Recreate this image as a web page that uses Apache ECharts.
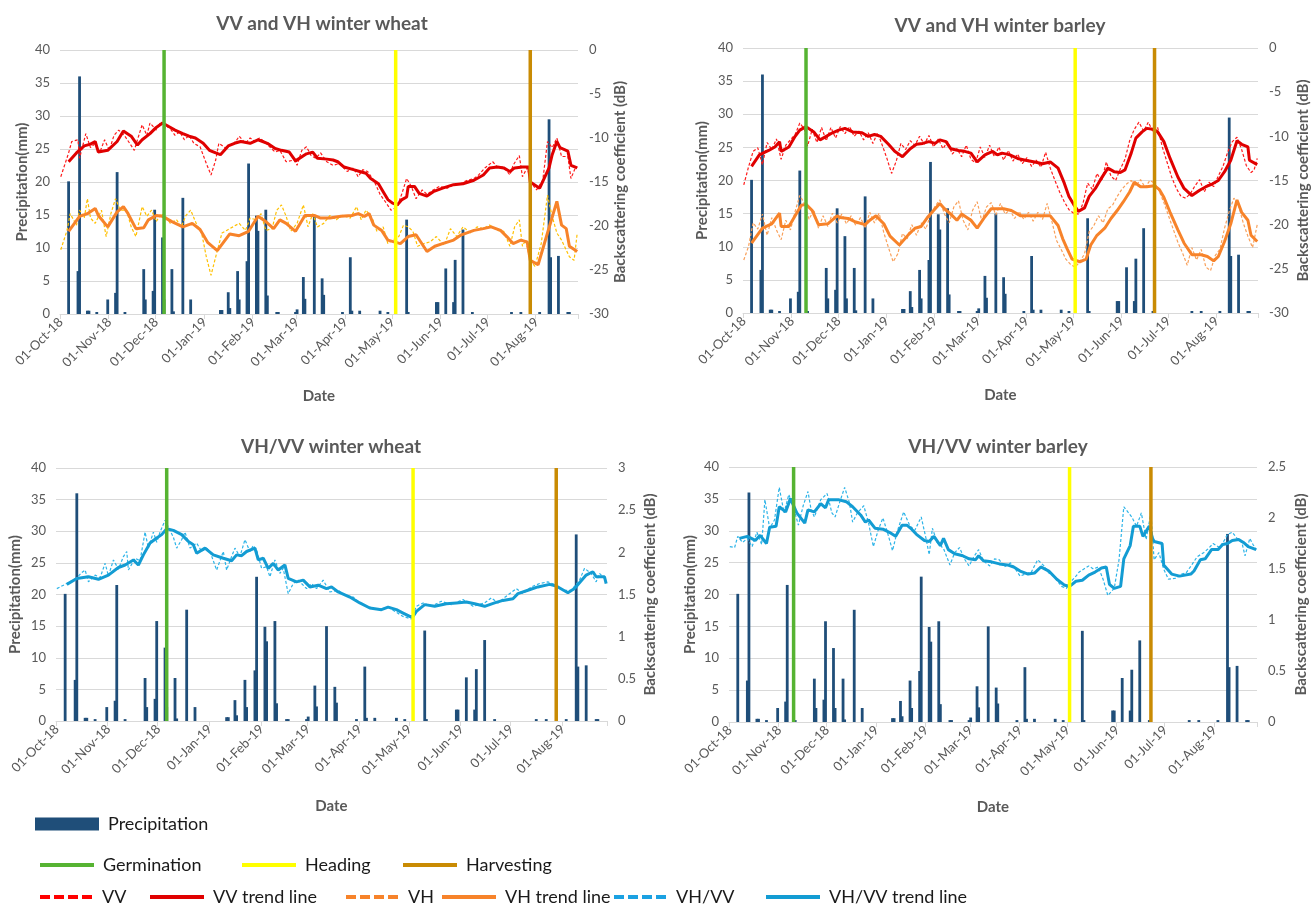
<!DOCTYPE html>
<html><head><meta charset="utf-8">
<script src="https://cdn.jsdelivr.net/npm/echarts@6/dist/echarts.min.js"></script>
<style>html,body{margin:0;padding:0;background:#fff}#c{width:1312px;height:911px}</style>
</head><body><div id="c"></div>
<script>
// ---------- categories: daily dates from 01-Oct-18 ----------
const MONTHS = ['Jan','Feb','Mar','Apr','May','Jun','Jul','Aug','Sep','Oct','Nov','Dec'];
const NUM_DAYS = 331;
const dateCategories = [];
for (let i = 0; i < NUM_DAYS; i++) {
  const d = new Date(Date.UTC(2018, 9, 1 + i));
  dateCategories.push(String(d.getUTCDate()).padStart(2,'0') + '-' + MONTHS[d.getUTCMonth()] + '-' + String(d.getUTCFullYear()).slice(2));
}
// all series: [day index since 01-Oct-18, value]
const precipitation = [[5,20.1],[11,6.5],[12,36],[17,0.5],[18,0.5],[23,0.3],[30,2.2],[35,3.2],[36,21.5],[41,0.3],[53,6.8],[54,2.2],[59,3.5],[60,15.8],[65,11.6],[66,2.2],[71,6.8],[72,0.4],[78,17.6],[83,2.2],[102,0.6],[103,0.6],[107,3.3],[108,0.9],[113,6.5],[114,2.2],[119,8.0],[120,22.8],[125,14.9],[126,12.6],[131,15.8],[132,2.8],[138,0.3],[139,0.3],[150,0.3],[151,0.7],[155,5.6],[156,2.3],[162,15.0],[167,5.4],[168,2.9],[180,0.3],[185,8.6],[186,0.5],[191,0.5],[204,0.5],[209,0.3],[221,14.3],[222,0.3],[240,1.8],[241,1.8],[246,6.9],[251,1.8],[252,8.2],[257,12.8],[263,0.3],[288,0.3],[294,0.3],[306,0.3],[312,29.5],[313,8.6],[318,8.8],[324,0.3],[325,0.3]];

const eventNames = ['Germination','Heading','Harvesting'];
const wheatEventDays = [66, 214, 300];
const barleyEventDays = [40, 213, 264];

const vvWheat = [[0,-14.4],[5,-11.7],[7,-10.4],[11,-10.2],[12,-12.3],[16,-9.5],[19,-11.1],[22,-10.6],[25,-11.6],[28,-10.2],[31,-11.4],[34,-9.7],[37,-9.1],[41,-9.8],[44,-10.6],[47,-11.4],[49,-10.2],[52,-8.5],[55,-9.7],[57,-8.3],[61,-9.1],[63,-8.3],[67,-8.9],[69,-8.7],[73,-9.7],[76,-9.3],[79,-10.2],[82,-9.7],[85,-10.6],[89,-11.0],[93,-12.9],[96,-14.2],[99,-12.5],[101,-10.6],[105,-11.1],[108,-10.8],[111,-10.6],[114,-9.8],[118,-10.6],[121,-10.0],[124,-10.4],[127,-10.0],[130,-10.4],[134,-11.1],[137,-11.6],[140,-11.4],[144,-12.7],[149,-12.5],[151,-13.1],[154,-11.4],[157,-11.0],[160,-12.0],[163,-12.3],[166,-11.7],[170,-12.7],[174,-13.1],[178,-12.9],[183,-13.8],[187,-13.4],[190,-14.4],[193,-13.6],[196,-13.8],[200,-14.8],[204,-16.4],[208,-17.4],[211,-18.2],[215,-17.8],[218,-16.3],[221,-14.6],[224,-15.5],[227,-16.9],[231,-15.9],[234,-16.4],[238,-15.9],[242,-15.5],[247,-15.7],[251,-15.3],[255,-15.2],[260,-14.8],[264,-14.6],[267,-14.2],[271,-13.4],[276,-12.7],[279,-13.3],[283,-13.3],[287,-14.2],[289,-13.1],[293,-12.0],[295,-14.4],[298,-13.4],[301,-15.2],[304,-15.9],[308,-14.8],[311,-10.4],[314,-11.1],[317,-10.0],[320,-12.1],[324,-12.1],[326,-14.6],[329,-13.3],[330,-13.4]];
const vvWheatTrend = [[5,-12.7],[10,-11.7],[15,-10.9],[19,-10.7],[22,-10.4],[24,-11.6],[30,-11.4],[36,-10.4],[40,-9.2],[45,-9.8],[49,-10.8],[52,-10.2],[57,-9.5],[61,-8.8],[65,-8.3],[69,-8.7],[73,-9.1],[78,-9.5],[82,-9.8],[86,-10.0],[91,-10.6],[95,-11.4],[99,-11.7],[102,-11.9],[107,-10.9],[111,-10.6],[115,-10.4],[121,-10.6],[126,-10.2],[129,-10.4],[132,-10.6],[137,-11.2],[141,-11.4],[146,-11.6],[150,-12.6],[157,-11.8],[161,-11.6],[164,-12.3],[170,-12.4],[174,-12.5],[177,-12.7],[181,-13.3],[187,-13.6],[191,-13.8],[195,-14.0],[198,-14.6],[203,-15.2],[206,-16.1],[209,-17.0],[212,-17.4],[215,-17.6],[218,-17.0],[221,-16.7],[222,-15.5],[226,-15.5],[229,-16.3],[234,-16.6],[238,-16.1],[244,-15.7],[251,-15.3],[257,-15.2],[264,-14.8],[270,-14.2],[274,-13.4],[279,-13.3],[283,-13.4],[287,-13.8],[290,-13.4],[295,-13.3],[299,-13.3],[300,-15.0],[306,-15.7],[312,-13.4],[314,-11.9],[317,-10.4],[319,-11.1],[324,-11.5],[326,-13.1],[330,-13.4]];
const vhWheat = [[0,-22.7],[4,-20.5],[6,-18.6],[10,-19.9],[12,-18.2],[15,-19.1],[17,-16.9],[19,-19.1],[22,-19.7],[26,-18.2],[29,-21.2],[32,-18.6],[35,-16.9],[38,-18.2],[42,-18.2],[45,-20.1],[48,-21.2],[52,-17.8],[55,-18.9],[58,-18.2],[61,-19.5],[64,-18.6],[67,-18.9],[70,-19.7],[74,-19.3],[77,-20.1],[80,-18.8],[83,-18.2],[87,-19.9],[90,-20.8],[93,-23.5],[96,-25.6],[99,-23.5],[103,-20.8],[106,-20.5],[110,-20.1],[114,-19.7],[118,-20.5],[121,-19.1],[125,-19.3],[128,-18.6],[131,-20.5],[135,-20.3],[138,-18.2],[141,-17.6],[144,-18.9],[147,-20.6],[151,-19.7],[155,-17.6],[158,-20.1],[161,-18.6],[164,-20.1],[168,-19.7],[172,-18.8],[176,-19.3],[180,-18.8],[185,-19.1],[189,-17.8],[192,-19.3],[195,-18.2],[199,-19.1],[202,-20.6],[206,-20.1],[209,-22.0],[212,-21.6],[216,-21.2],[219,-19.9],[222,-20.1],[225,-20.6],[228,-22.3],[232,-22.0],[236,-21.8],[240,-21.2],[245,-22.2],[249,-20.3],[253,-21.2],[257,-20.1],[262,-20.8],[266,-20.1],[270,-20.3],[274,-19.9],[279,-20.5],[283,-20.6],[287,-22.3],[290,-20.1],[293,-19.3],[295,-22.3],[297,-21.6],[300,-23.9],[303,-24.6],[307,-22.0],[311,-16.5],[314,-18.9],[317,-20.8],[320,-21.6],[325,-23.5],[328,-23.9],[330,-20.8]];
const vhWheatTrend = [[5,-20.6],[12,-18.9],[17,-18.6],[22,-18.0],[24,-18.8],[30,-20.1],[36,-18.4],[40,-17.8],[43,-18.6],[48,-20.3],[53,-20.2],[56,-19.3],[61,-18.8],[65,-18.9],[71,-19.5],[78,-20.1],[84,-19.7],[89,-20.4],[94,-21.9],[100,-22.8],[108,-20.9],[114,-21.1],[120,-20.6],[126,-18.9],[131,-19.5],[136,-20.3],[140,-19.3],[144,-19.7],[150,-20.6],[156,-18.8],[162,-18.8],[166,-19.1],[172,-19.1],[179,-18.9],[186,-18.8],[190,-18.6],[194,-18.9],[197,-18.6],[200,-19.9],[205,-20.5],[209,-21.6],[213,-21.8],[217,-22.0],[222,-21.2],[227,-21.0],[234,-22.9],[239,-22.3],[244,-22.0],[251,-21.6],[256,-21.0],[264,-20.5],[270,-20.3],[275,-20.1],[281,-20.5],[285,-21.2],[289,-22.0],[294,-21.6],[298,-21.8],[300,-23.9],[305,-24.4],[311,-20.8],[317,-17.2],[320,-19.9],[323,-20.3],[325,-22.3],[330,-22.9]];

const vvBarley = [[0,-15.5],[3,-13.5],[6,-11.7],[9,-11.3],[12,-13.2],[15,-10.7],[18,-11.5],[21,-10.3],[24,-12.6],[27,-11.0],[30,-10.4],[33,-9.8],[36,-8.5],[39,-9.2],[41,-11.1],[44,-9.2],[47,-10.7],[50,-9.0],[53,-10.5],[56,-9.0],[59,-10.2],[62,-8.9],[65,-9.7],[68,-8.9],[71,-10.0],[74,-9.4],[77,-10.4],[80,-9.6],[83,-10.8],[86,-9.6],[89,-11.0],[92,-12.5],[95,-14.2],[98,-12.8],[101,-10.8],[104,-11.5],[107,-10.5],[110,-11.0],[113,-10.0],[116,-10.9],[119,-9.9],[122,-11.2],[125,-10.3],[128,-11.4],[131,-10.6],[134,-12.0],[137,-11.4],[140,-12.3],[143,-11.0],[146,-12.6],[149,-13.0],[152,-11.2],[155,-12.4],[158,-11.0],[161,-12.3],[164,-11.2],[167,-12.7],[170,-11.6],[173,-12.8],[176,-12.0],[179,-13.1],[182,-12.4],[185,-13.4],[188,-12.7],[191,-13.5],[194,-11.8],[197,-13.6],[200,-15.0],[203,-16.3],[206,-17.4],[209,-18.3],[212,-18.7],[215,-18.8],[218,-17.6],[221,-15.3],[224,-16.0],[227,-14.2],[230,-15.1],[233,-12.9],[236,-14.5],[239,-15.0],[242,-13.7],[245,-12.6],[248,-10.5],[251,-9.2],[254,-8.4],[257,-9.4],[260,-8.4],[263,-9.5],[266,-9.0],[269,-11.2],[272,-12.9],[275,-14.6],[278,-15.9],[281,-16.8],[284,-17.0],[287,-16.5],[290,-15.6],[293,-14.9],[296,-16.3],[299,-15.2],[302,-15.7],[305,-14.5],[308,-13.4],[311,-11.8],[314,-10.6],[317,-10.1],[320,-11.5],[323,-13.3],[326,-14.1],[328,-13.8],[330,-12.5]];
const vvBarleyTrend = [[5,-13.4],[10,-12.1],[16,-11.6],[20,-11.2],[23,-10.6],[24,-11.7],[29,-11.2],[33,-10.0],[36,-9.3],[40,-8.9],[45,-9.5],[49,-10.4],[53,-10.0],[57,-9.6],[61,-9.3],[65,-9.1],[70,-9.5],[76,-9.6],[80,-10.0],[84,-9.8],[88,-10.0],[93,-10.9],[97,-11.7],[102,-12.3],[107,-11.4],[111,-10.9],[115,-10.8],[119,-10.6],[123,-10.8],[126,-10.4],[130,-10.6],[133,-11.4],[138,-11.6],[142,-11.7],[146,-11.9],[150,-12.9],[155,-12.1],[160,-11.7],[163,-12.1],[166,-11.9],[171,-12.1],[176,-12.5],[181,-12.7],[187,-12.9],[192,-13.1],[197,-12.9],[202,-13.6],[206,-15.3],[209,-16.8],[212,-17.7],[215,-18.5],[219,-18.1],[222,-16.8],[226,-15.9],[230,-14.7],[234,-13.6],[238,-14.0],[242,-14.1],[245,-13.8],[249,-11.9],[252,-10.2],[256,-9.5],[259,-9.1],[263,-9.2],[266,-9.5],[270,-10.6],[274,-12.5],[279,-14.6],[283,-15.9],[288,-16.7],[293,-16.1],[297,-15.7],[301,-15.4],[305,-15.0],[309,-14.0],[313,-12.7],[317,-10.5],[320,-10.9],[324,-11.2],[325,-12.7],[330,-13.2]];
const vhBarley = [[0,-24.0],[3,-22.5],[6,-19.8],[9,-20.5],[12,-18.8],[15,-21.2],[18,-19.2],[21,-20.6],[24,-21.7],[27,-19.5],[30,-20.6],[33,-18.5],[36,-16.7],[39,-17.6],[42,-19.4],[45,-18.3],[48,-20.4],[51,-19.0],[54,-20.2],[57,-18.7],[60,-19.8],[63,-18.8],[66,-19.9],[69,-19.0],[72,-20.1],[75,-19.2],[78,-20.4],[81,-18.6],[84,-19.8],[87,-18.7],[90,-20.9],[93,-22.6],[96,-24.2],[99,-23.3],[102,-21.0],[105,-21.6],[108,-20.0],[111,-21.2],[114,-19.8],[117,-20.5],[120,-18.9],[123,-17.9],[126,-17.2],[129,-18.8],[132,-19.8],[135,-18.0],[138,-17.3],[141,-19.5],[144,-20.6],[147,-18.4],[150,-17.4],[153,-19.6],[156,-18.0],[159,-17.5],[162,-18.9],[165,-17.6],[168,-18.8],[171,-18.3],[174,-19.3],[177,-18.5],[180,-19.4],[183,-18.6],[186,-19.6],[189,-18.6],[192,-19.4],[195,-17.6],[198,-19.6],[201,-21.8],[204,-22.8],[207,-23.9],[210,-24.5],[213,-24.8],[216,-24.2],[219,-23.3],[222,-20.8],[225,-20.1],[228,-19.0],[231,-19.8],[234,-18.2],[237,-17.8],[240,-16.8],[243,-16.0],[246,-15.4],[249,-15.0],[252,-15.6],[255,-14.9],[258,-15.8],[261,-15.0],[264,-15.3],[267,-16.2],[270,-17.5],[273,-19.0],[276,-20.5],[279,-22.0],[282,-23.2],[285,-24.6],[288,-22.6],[291,-24.0],[294,-22.8],[297,-24.8],[300,-25.2],[303,-23.5],[306,-22.8],[309,-20.4],[312,-18.5],[315,-17.0],[318,-17.8],[321,-19.8],[324,-21.3],[327,-22.6],[330,-20.0]];
const vhBarleyTrend = [[5,-22.1],[12,-20.4],[18,-19.9],[23,-18.7],[24,-20.2],[29,-20.2],[33,-19.0],[37,-17.8],[40,-17.7],[44,-18.4],[48,-20.0],[54,-19.9],[60,-19.0],[62,-19.2],[67,-19.3],[72,-19.7],[78,-20.0],[81,-19.5],[85,-19.0],[90,-19.9],[94,-21.3],[100,-22.3],[106,-21.1],[110,-20.4],[114,-20.2],[118,-19.2],[122,-18.4],[126,-17.6],[129,-18.2],[133,-18.8],[137,-19.5],[140,-18.8],[146,-19.5],[150,-20.4],[155,-19.1],[159,-18.2],[163,-18.2],[167,-18.2],[172,-18.4],[178,-19.0],[185,-19.0],[191,-19.0],[197,-19.0],[202,-20.1],[205,-21.6],[208,-22.8],[211,-23.9],[216,-24.2],[220,-23.9],[223,-22.3],[227,-21.2],[232,-20.4],[236,-19.3],[240,-18.4],[244,-17.4],[248,-16.3],[251,-15.2],[255,-15.7],[259,-15.7],[264,-15.6],[267,-16.0],[270,-16.9],[274,-18.6],[279,-20.6],[283,-22.1],[288,-23.4],[294,-23.4],[298,-23.6],[302,-24.1],[305,-23.6],[309,-21.9],[313,-19.9],[317,-17.2],[320,-18.6],[324,-19.5],[326,-21.2],[330,-21.9]];

const ratioWheat = [[0,1.57],[4,1.61],[8,1.65],[12,1.70],[15,1.76],[17,1.79],[19,1.65],[23,1.73],[26,1.70],[29,1.87],[31,1.72],[34,1.91],[37,1.80],[40,1.95],[42,2.01],[43,1.79],[47,1.93],[50,1.90],[53,2.24],[55,2.05],[58,2.24],[60,2.12],[62,2.24],[65,2.38],[68,2.26],[70,2.18],[72,2.05],[75,2.15],[77,2.24],[80,2.05],[84,2.11],[87,2.01],[90,2.05],[92,2.01],[96,1.79],[98,1.90],[100,2.01],[102,1.79],[105,1.95],[107,2.05],[110,1.95],[113,2.15],[116,2.01],[118,2.08],[120,2.03],[123,1.81],[126,1.83],[128,1.71],[131,1.91],[134,1.75],[136,1.81],[139,1.51],[142,1.63],[145,1.67],[150,1.57],[153,1.63],[156,1.57],[160,1.67],[164,1.53],[169,1.55],[173,1.49],[178,1.47],[182,1.40],[186,1.36],[193,1.32],[199,1.35],[203,1.30],[208,1.24],[213,1.21],[216,1.36],[220,1.40],[225,1.36],[231,1.42],[237,1.38],[244,1.44],[250,1.36],[257,1.40],[261,1.46],[265,1.40],[270,1.48],[276,1.57],[280,1.51],[285,1.59],[290,1.63],[295,1.65],[300,1.61],[304,1.55],[309,1.55],[314,1.67],[317,1.81],[321,1.75],[324,1.65],[326,1.75],[330,1.67]];
const ratioWheatTrend = [[6,1.62],[12,1.69],[19,1.71],[25,1.68],[31,1.73],[37,1.82],[41,1.85],[46,1.91],[49,1.85],[52,1.97],[56,2.11],[60,2.17],[63,2.21],[66,2.28],[70,2.26],[75,2.21],[79,2.13],[82,2.09],[84,1.99],[89,2.05],[94,1.97],[100,1.93],[105,1.90],[108,1.97],[111,1.96],[114,2.01],[119,2.05],[121,1.91],[124,1.93],[127,1.81],[130,1.87],[133,1.79],[137,1.85],[139,1.69],[144,1.65],[148,1.67],[152,1.59],[157,1.61],[162,1.57],[165,1.59],[169,1.53],[176,1.47],[182,1.40],[188,1.34],[195,1.32],[199,1.35],[204,1.32],[208,1.28],[212,1.24],[214,1.24],[216,1.30],[221,1.38],[227,1.36],[234,1.39],[240,1.40],[246,1.41],[251,1.39],[257,1.36],[263,1.40],[268,1.43],[274,1.45],[277,1.51],[283,1.55],[289,1.59],[296,1.62],[300,1.60],[307,1.52],[311,1.57],[318,1.73],[322,1.77],[324,1.71],[329,1.71],[330,1.63]];
const ratioBarley = [[0,1.72],[3,1.71],[5,1.82],[8,1.76],[11,1.80],[14,1.72],[17,1.86],[20,1.74],[22,2.18],[25,1.90],[28,1.98],[31,2.30],[34,2.05],[37,2.23],[40,2.10],[43,1.93],[46,2.12],[49,2.26],[51,2.08],[53,2.01],[57,2.18],[61,2.24],[64,2.05],[66,2.01],[69,2.16],[72,2.30],[75,2.15],[77,1.96],[80,2.05],[84,2.12],[87,1.95],[90,1.72],[93,1.88],[96,2.00],[99,1.85],[102,1.68],[105,1.87],[109,2.06],[113,1.92],[116,1.88],[120,2.01],[123,1.80],[125,1.64],[127,1.90],[130,1.76],[134,1.70],[138,1.54],[141,1.66],[144,1.71],[147,1.60],[150,1.53],[153,1.62],[156,1.69],[159,1.58],[163,1.53],[166,1.60],[169,1.59],[172,1.52],[176,1.56],[179,1.50],[182,1.43],[185,1.45],[189,1.47],[193,1.59],[197,1.53],[200,1.46],[203,1.43],[206,1.37],[208,1.33],[211,1.31],[214,1.38],[217,1.43],[219,1.47],[222,1.50],[225,1.53],[228,1.50],[231,1.52],[234,1.40],[237,1.24],[241,1.31],[244,1.59],[247,2.11],[250,2.05],[252,2.01],[255,1.92],[258,2.05],[261,1.79],[264,2.05],[266,1.59],[269,1.66],[272,1.50],[275,1.40],[280,1.41],[283,1.45],[286,1.46],[290,1.55],[293,1.62],[297,1.66],[300,1.70],[303,1.75],[307,1.71],[310,1.78],[312,1.84],[315,1.86],[318,1.80],[321,1.76],[323,1.63],[326,1.80],[328,1.74],[330,1.69]];
const ratioBarleyTrend = [[6,1.80],[11,1.82],[16,1.78],[19,1.83],[23,1.75],[25,1.91],[29,1.92],[31,2.11],[35,2.06],[38,2.19],[42,2.05],[47,1.95],[49,2.08],[53,2.06],[57,2.14],[60,2.10],[62,2.18],[68,2.18],[73,2.16],[77,2.11],[82,2.03],[85,1.96],[87,1.98],[91,1.90],[96,1.89],[100,1.86],[104,1.82],[108,1.93],[111,1.93],[114,1.89],[117,1.84],[122,1.78],[125,1.77],[128,1.82],[132,1.73],[134,1.80],[137,1.69],[141,1.65],[146,1.63],[150,1.60],[154,1.59],[156,1.63],[159,1.58],[164,1.57],[169,1.55],[174,1.54],[178,1.52],[182,1.48],[187,1.45],[191,1.46],[195,1.52],[200,1.48],[205,1.40],[210,1.34],[213,1.33],[217,1.38],[221,1.39],[225,1.44],[229,1.47],[233,1.51],[236,1.52],[238,1.35],[241,1.31],[245,1.33],[247,1.60],[251,1.73],[253,1.92],[257,1.92],[259,1.82],[263,1.92],[265,1.80],[266,1.77],[271,1.75],[272,1.54],[277,1.45],[282,1.43],[289,1.45],[291,1.48],[295,1.59],[298,1.60],[302,1.69],[306,1.69],[309,1.74],[312,1.75],[315,1.78],[319,1.79],[322,1.76],[325,1.72],[330,1.69]];

// ---------- styling ----------
const FONT = 'Lato, "Liberation Sans", sans-serif';
const GRAY = '#595959';
const GRID_C = '#D9D9D9';
const C = {bar:'#1F4E79', vv:'#FF1A1A', vvT:'#E00000', vhRawW:'#FFC000', vhRawB:'#F9A05A', vhT:'#F7832A', rRaw:'#2DB4E8', rT:'#139CD3',
  ev:['#56B332','#FFFF00','#C98B03']};

const panels = [
  {title:'VV and VH winter wheat', tx:322, ty:24, grid:{left:60, top:50, width:518, height:264}, rmin:-30, rmax:0, rint:5, events:wheatEventDays,
   lines:[['VV',vvWheat,C.vv,false],['VV trend line',vvWheatTrend,C.vvT,true],['VH',vhWheat,C.vhRawW,false],['VH trend line',vhWheatTrend,C.vhT,true]],
   lGap:30, rGap:27, dGap:75},
  {title:'VV and VH winter barley', tx:1000, ty:26, grid:{left:743, top:48, width:516, height:265}, rmin:-30, rmax:0, rint:5, events:barleyEventDays,
   lines:[['VV',vvBarley,C.vv,false],['VV trend line',vvBarleyTrend,C.vvT,true],['VH',vhBarley,C.vhRawB,false],['VH trend line',vhBarleyTrend,C.vhT,true]],
   lGap:33, rGap:38, dGap:75},
  {title:'VH/VV winter wheat', tx:331, ty:447, grid:{left:56, top:468, width:551, height:253}, rmin:0, rmax:3, rint:0.5, events:wheatEventDays,
   lines:[['VH/VV',ratioWheat,C.rRaw,false],['VH/VV trend line',ratioWheatTrend,C.rT,true]],
   lGap:33, rGap:36, dGap:78},
  {title:'VH/VV winter barley', tx:998, ty:447, grid:{left:729, top:467, width:528, height:255}, rmin:0, rmax:2.5, rint:0.5, events:barleyEventDays,
   lines:[['VH/VV',ratioBarley,C.rRaw,false],['VH/VV trend line',ratioBarleyTrend,C.rT,true]],
   lGap:31, rGap:37, dGap:78}
];

const isMonthStart = (idx, val) => typeof val === 'string' ? val.slice(0,3) === '01-' : dateCategories[idx].slice(0,3) === '01-';
const axisNameStyle = {color:GRAY, fontWeight:'bold', fontSize:15, fontFamily:FONT};
const tickLabel = {color:GRAY, fontSize:13, fontFamily:FONT};

const grid = [], xAxis = [], yAxis = [], series = [], graphic = [];
panels.forEach((p, i) => {
  grid.push(Object.assign({containLabel:false}, p.grid));
  graphic.push({type:'text', x:p.tx, y:p.ty, style:{text:p.title, fill:GRAY, fontSize:19, fontWeight:'bold', fontFamily:FONT, align:'center', verticalAlign:'middle', textAlign:'center', textVerticalAlign:'middle'}});
  xAxis.push({type:'category', gridIndex:i, data:dateCategories, boundaryGap:true,
    axisLine:{show:true, lineStyle:{color:GRID_C, width:1}},
    axisTick:{show:true, interval:isMonthStart, length:5, lineStyle:{color:GRID_C}},
    axisLabel:Object.assign({interval:isMonthStart, rotate:45, margin:6}, tickLabel),
    splitLine:{show:false},
    name:'Date', nameLocation:'middle', nameGap:p.dGap, nameTextStyle:axisNameStyle});
  yAxis.push({type:'value', gridIndex:i, position:'left', min:0, max:40, interval:5,
    axisLine:{show:false}, axisTick:{show:false}, axisLabel:Object.assign({margin:10}, tickLabel),
    splitLine:{show:true, lineStyle:{color:GRID_C, width:1.2}},
    name:'Precipitation(mm)', nameLocation:'middle', nameGap:p.lGap, nameTextStyle:axisNameStyle});
  yAxis.push({type:'value', gridIndex:i, position:'right', min:p.rmin, max:p.rmax, interval:p.rint,
    axisLine:{show:false}, axisTick:{show:false}, axisLabel:Object.assign({margin:11}, tickLabel),
    splitLine:{show:false},
    name:'Backscattering coefficient (dB)', nameLocation:'middle', nameGap:p.rGap, nameTextStyle:axisNameStyle});
  series.push({type:'bar', name:'Precipitation', xAxisIndex:i, yAxisIndex:2*i, data:precipitation, barWidth:2.8,
    itemStyle:{color:C.bar}, z:2});
  p.lines.forEach(([name, data, color, trend]) => {
    series.push({type:'line', name, xAxisIndex:i, yAxisIndex:2*i+1, data, symbol:'none', showSymbol:false,
      lineStyle: trend ? {color, width:3} : {color, width:1.2, type:[3,2]},
      itemStyle:{color}, z: trend ? 4 : 3});
  });
  p.events.forEach((d, k) => {
    series.push({type:'line', name:eventNames[k], xAxisIndex:i, yAxisIndex:2*i, data:[[d,0],[d,40]], symbol:'none', showSymbol:false,
      lineStyle:{color:C.ev[k], width:3.5}, itemStyle:{color:C.ev[k]}, z:6});
  });
});

// ---------- legend (three rows) ----------
const SOLID_ICON = 'rect';
const DASH_ICON = 'path://M0,0H10V4H0Z M14,0H24V4H14Z M28,0H38V4H28Z M42,0H52V4H42Z';
const legendText = {fontSize:18, color:'#1a1a1a', fontFamily:FONT, padding:[0,0,0,4]};
function lg(item, left, top, w, h) {
  return {data:[item], left, top, padding:0, itemWidth:w || 54, itemHeight:h || 4, selectedMode:false, textStyle:legendText};
}
const legend = [
  lg({name:'Precipitation', icon:SOLID_ICON, itemStyle:{color:C.bar}}, 35, 815, 64, 13),
  lg({name:'Germination', icon:SOLID_ICON, itemStyle:{color:C.ev[0]}}, 40, 856),
  lg({name:'Heading', icon:SOLID_ICON, itemStyle:{color:C.ev[1]}}, 242, 856),
  lg({name:'Harvesting', icon:SOLID_ICON, itemStyle:{color:C.ev[2]}}, 403, 856),
  lg({name:'VV', icon:DASH_ICON, itemStyle:{color:'#FF0000'}}, 40, 888),
  lg({name:'VV trend line', icon:SOLID_ICON, itemStyle:{color:C.vvT}}, 150, 888),
  lg({name:'VH', icon:DASH_ICON, itemStyle:{color:'#F7832A'}}, 346, 888),
  lg({name:'VH trend line', icon:SOLID_ICON, itemStyle:{color:C.vhT}}, 442, 888),
  lg({name:'VH/VV', icon:DASH_ICON, itemStyle:{color:'#1BA1E2'}}, 614, 888),
  lg({name:'VH/VV trend line', icon:SOLID_ICON, itemStyle:{color:C.rT}}, 766, 888)
];

const chart = echarts.init(document.getElementById('c'), null, {renderer:'canvas'});
chart.setOption({animation:false, backgroundColor:'#ffffff', textStyle:{fontFamily:FONT}, grid, xAxis, yAxis, series, legend, graphic});
</script></body></html>
